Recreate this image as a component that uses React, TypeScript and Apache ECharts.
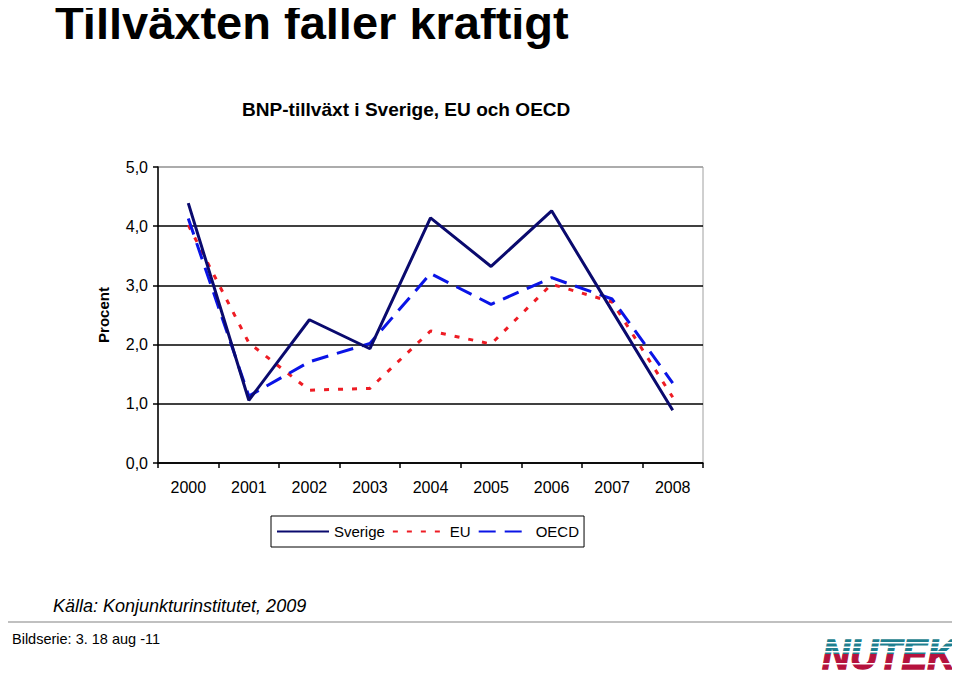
import React, { useEffect, useRef } from "react";
import * as echarts from "echarts";

const years = ["2000", "2001", "2002", "2003", "2004", "2005", "2006", "2007", "2008"];
const sverige = [4.39, 1.06, 2.42, 1.93, 4.14, 3.32, 4.26, 2.57, 0.89];
const eu = [4.02, 2.03, 1.23, 1.26, 2.23, 2.01, 3.02, 2.72, 1.11];
const oecd = [4.13, 1.13, 1.71, 2.02, 3.2, 2.68, 3.13, 2.77, 1.35];
const seriesNames = ["Sverige", "EU", "OECD"];

const FONT = "'Liberation Sans', Arial, sans-serif";

export default function App() {
  const ref = useRef<HTMLDivElement>(null);
  useEffect(() => {
    if (!ref.current) return;
    const chart = echarts.init(ref.current, null, { renderer: "svg" });
    const txt = (
      text: string,
      x: number,
      y: number,
      size: number,
      weight: string,
      style = "normal",
      extra: any = {}
    ) => ({
      type: "text",
      x,
      y,
      ...extra,
      style: {
        text,
        font: `${style} ${weight} ${size}px ${FONT}`,
        fill: "#000",
        textAlign: "left",
        textVerticalAlign: "middle",
        ...(extra.style || {}),
      },
    });
    const logo = (color: string, clipY: number, clipH: number) => ({
      type: "text",
      x: 822,
      y: 654,
      scaleX: 0.9,
      style: {
        text: "NUTEK",
        font: `italic bold 43px ${FONT}`,
        textAlign: "left",
        textVerticalAlign: "middle",
        fill: color,
        stroke: color,
        lineWidth: 1.3,
      },
      clipPath: { type: "rect", shape: { x: -20, y: clipY, width: 220, height: clipH } },
      z: 100,
    });
    chart.setOption({
      animation: false,
      backgroundColor: "#fff",
      textStyle: { fontFamily: FONT },
      grid: { left: 158, right: 257, top: 167, bottom: 216, show: true, borderColor: "#a0a0a0", borderWidth: 1 },
      legend: {
        data: seriesNames,
        left: 271,
        top: 516,
        orient: "horizontal",
        borderColor: "#000",
        borderWidth: 1,
        padding: [8, 5, 8, 5],
        itemWidth: 52,
        itemHeight: 14,
        itemGap: 7,
        itemStyle: { opacity: 0 },
        textStyle: { fontSize: 15, color: "#000", fontFamily: FONT },
      },
      xAxis: {
        type: "category",
        data: years,
        boundaryGap: true,
        axisLine: { lineStyle: { color: "#000", width: 1.5 } },
        axisTick: { show: true, length: 5, lineStyle: { color: "#000", width: 1.5 } },
        axisLabel: { fontSize: 16, color: "#000", margin: 16, fontFamily: FONT },
        splitLine: { show: false },
      },
      yAxis: {
        type: "value",
        min: 0,
        max: 5,
        interval: 1,
        name: "Procent",
        nameLocation: "middle",
        nameRotate: 90,
        nameGap: 47,
        nameTextStyle: { fontSize: 15, fontWeight: "bold", color: "#000", fontFamily: FONT },
        axisLine: { show: true, lineStyle: { color: "#000", width: 1.5 } },
        axisTick: { show: true, length: 5, lineStyle: { color: "#000", width: 1.5 } },
        axisLabel: {
          fontSize: 16,
          color: "#000",
          margin: 10,
          fontFamily: FONT,
          formatter: (v: number) => v.toFixed(1).replace(".", ","),
        },
        splitLine: {
          show: true,
          lineStyle: { color: ["#000", "#000", "#000", "#000", "#000", "#a0a0a0"], width: 1.5 },
        },
      },
      series: [
        {
          name: seriesNames[0],
          type: "line",
          data: sverige,
          symbol: "none",
          lineStyle: { color: "#0a0a6e", width: 3, type: "solid" },
          itemStyle: { color: "#0a0a6e" },
          z: 4,
        },
        {
          name: seriesNames[1],
          type: "line",
          data: eu,
          symbol: "none",
          lineStyle: { color: "#ee1c24", width: 3, type: [5, 9] },
          itemStyle: { color: "#ee1c24" },
          z: 2,
        },
        {
          name: seriesNames[2],
          type: "line",
          data: oecd,
          symbol: "none",
          lineStyle: { color: "#0a14e6", width: 3, type: [17, 9] },
          itemStyle: { color: "#0a14e6" },
          z: 3,
        },
      ],
      graphic: [
        txt("Tillväxten faller kraftigt", 55, 22, 47, "bold", "normal", { style: { lineHeight: 40 } }),
        txt("BNP-tillväxt i Sverige, EU och OECD", 242, 110, 18, "bold", "normal", { scaleX: 1.06 }),
        txt("Källa: Konjunkturinstitutet, 2009", 53, 606, 18, "normal", "italic"),
        txt("Bildserie: 3. 18 aug -11", 12, 639, 14.5, "normal"),
        {
          type: "rect",
          shape: { x: 0, y: 621, width: 960, height: 2 },
          style: { fill: "#c0c0c0" },
        },
        logo("#1d7f8f", -30, 30),
        logo("#b5123d", 0, 30),
        ...[642, 646.5, 651, 663].map((yy) => ({
          type: "rect",
          shape: { x: 815, y: yy, width: 145, height: 1.4 },
          style: { fill: "#fff" },
          z: 200,
        })),
      ],
    });
    return () => chart.dispose();
  }, []);
  return <div ref={ref} style={{ width: 960, height: 679, margin: -8 }} />;
}
